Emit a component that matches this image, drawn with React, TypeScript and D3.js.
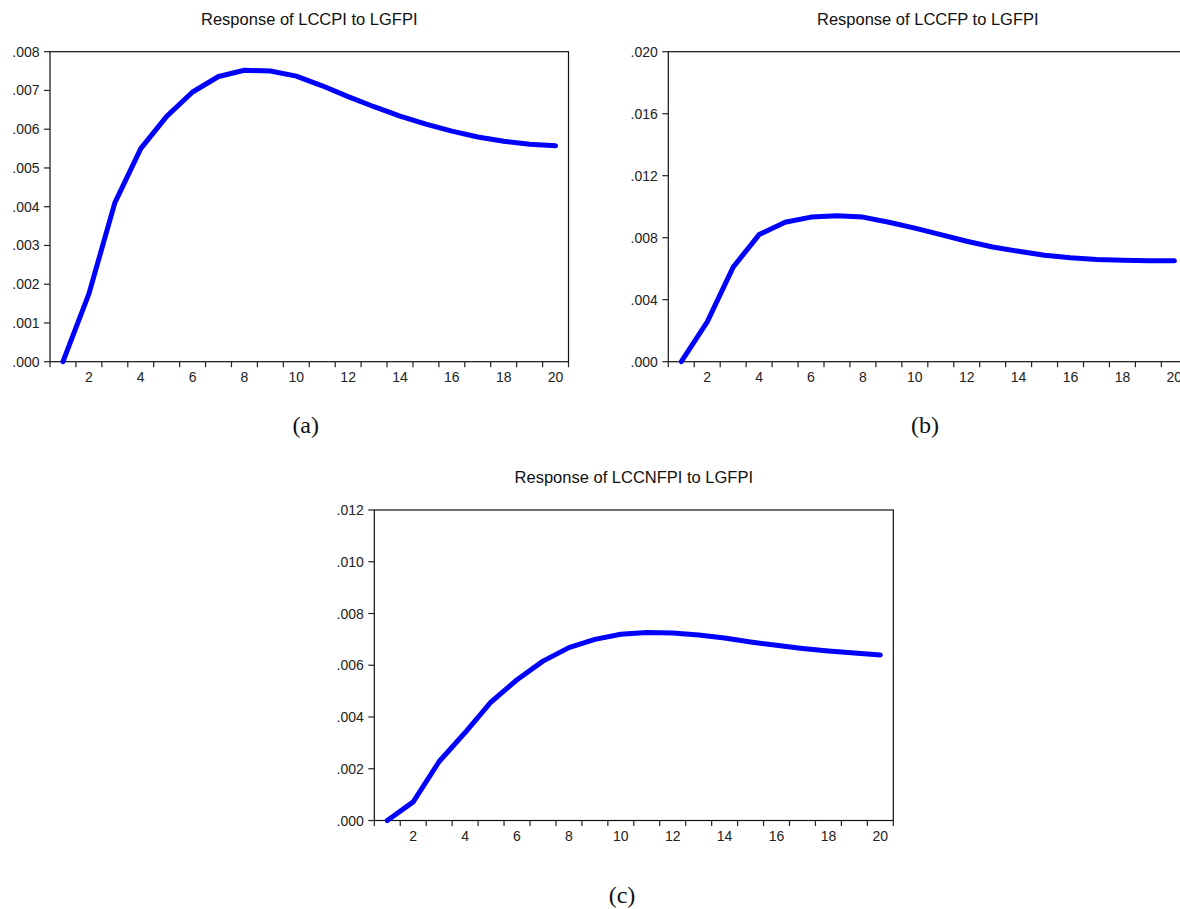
import React, { useEffect, useRef } from 'react'
import * as d3 from 'd3'

// impulse responses, periods 1..20
const periods = d3.range(1, 21)

const lccpiValues = [0.0, 0.00175, 0.0041, 0.0055, 0.00633, 0.00696, 0.00736, 0.00752, 0.0075, 0.00737,
  0.00712, 0.00684, 0.00658, 0.00634, 0.00613, 0.00595, 0.0058, 0.00569, 0.00561, 0.00557]

const lccfpValues = [0.0, 0.00257, 0.0061, 0.0082, 0.009, 0.00933, 0.00942, 0.00933, 0.009, 0.00862,
  0.0082, 0.00777, 0.0074, 0.00712, 0.00687, 0.0067, 0.0066, 0.00655, 0.00652, 0.00652]

const lccnfpiValues = [0.0, 0.00072, 0.00228, 0.0034, 0.00458, 0.00544, 0.00616, 0.00668, 0.007, 0.0072,
  0.00727, 0.00725, 0.00717, 0.00705, 0.0069, 0.00677, 0.00665, 0.00655, 0.00647, 0.0064]

const xTickLabels = [2, 4, 6, 8, 10, 12, 14, 16, 18, 20]

const panels = [
  { id: "a", title: "Response of LCCPI to LGFPI", values: lccpiValues, yMax: 0.008, yTicks: [0, 0.001, 0.002, 0.003, 0.004, 0.005, 0.006, 0.007, 0.008],
    left: 50, top: 51.7, width: 518.5, height: 310, caption: "(a)", capX: 305.7, capY: 433 },
  { id: "b", title: "Response of LCCFP to LGFPI", values: lccfpValues, yMax: 0.02, yTicks: [0, 0.004, 0.008, 0.012, 0.016, 0.02],
    left: 668.3, top: 51.7, width: 519, height: 310, caption: "(b)", capX: 925, capY: 433 },
  { id: "c", title: "Response of LCCNFPI to LGFPI", values: lccnfpiValues, yMax: 0.012, yTicks: [0, 0.002, 0.004, 0.006, 0.008, 0.01, 0.012],
    left: 374.3, top: 510, width: 519, height: 310.5, caption: "(c)", capX: 622, capY: 903 },
]

const fmt = (v) => d3.format(".3f")(v).replace(/^0\./, ".")

const App = () => {
  const svgRef = useRef(null)

  useEffect(() => {
    const svg = d3.select(svgRef.current)
    svg.selectAll("*").remove()

    panels.forEach(p => {
      const xScale = d3.scaleLinear().domain([0.5, 20.5]).range([0, p.width])
      const yScale = d3.scaleLinear().domain([0, p.yMax]).range([p.height, 0])

      const g = svg.append("g")
                   .attr("transform", "translate(" + p.left + "," + p.top + ")")

      // frame
      g.append("rect")
       .attr("x", 0).attr("y", 0)
       .attr("width", p.width).attr("height", p.height)
       .attr("fill", "none")
       .attr("stroke", "#111")
       .attr("stroke-width", 1.2)

      // x axis ticks at period boundaries, labels every 2
      g.selectAll(".xtick")
       .data(d3.range(0, 21))
       .join("line")
       .attr("x1", d => xScale(d + 0.5)).attr("x2", d => xScale(d + 0.5))
       .attr("y1", p.height).attr("y2", p.height + 5.5)
       .attr("stroke", "#222")
       .attr("stroke-width", 1.2)

      g.selectAll(".xlab")
       .data(xTickLabels)
       .join("text")
       .attr("x", d => xScale(d))
       .attr("y", p.height + 20.6)
       .attr("text-anchor", "middle")
       .attr("font-family", "'Liberation Sans', Arial, sans-serif")
       .attr("font-size", 14)
       .attr("fill", "#222")
       .text(d => d)

      // y axis
      g.selectAll(".ytick")
       .data(p.yTicks)
       .join("line")
       .attr("x1", -6).attr("x2", 0)
       .attr("y1", d => yScale(d)).attr("y2", d => yScale(d))
       .attr("stroke", "#222")
       .attr("stroke-width", 1.2)

      g.selectAll(".ylab")
       .data(p.yTicks)
       .join("text")
       .attr("x", -10.5)
       .attr("y", d => yScale(d))
       .attr("dy", "0.36em")
       .attr("text-anchor", "end")
       .attr("font-family", "'Liberation Sans', Arial, sans-serif")
       .attr("font-size", 14)
       .attr("fill", "#222")
       .text(d => fmt(d))

      // title
      g.append("text")
       .attr("x", p.width / 2)
       .attr("y", -26.7)
       .attr("text-anchor", "middle")
       .attr("font-family", "'Liberation Sans', Arial, sans-serif")
       .attr("font-size", 16.5)
       .attr("fill", "#111")
       .text(p.title)

      // response line
      const line = d3.line()
                     .x((d, i) => xScale(periods[i]))
                     .y(d => yScale(d))
      g.append("path")
       .datum(p.values)
       .attr("d", line)
       .attr("fill", "none")
       .attr("stroke", "#0000ff")
       .attr("stroke-width", 5)
       .attr("stroke-linecap", "round")
       .attr("stroke-linejoin", "round")

      // caption under panel
      svg.append("text")
         .attr("x", p.capX)
         .attr("y", p.capY)
         .attr("text-anchor", "middle")
         .attr("font-family", "'Liberation Serif', 'Times New Roman', serif")
         .attr("font-size", 24)
         .attr("fill", "#111")
         .text(p.caption)
    })
  }, [])

  return (
    <div style={{ position: "absolute", left: 0, top: 0, background: "#fff" }}>
      <svg ref={svgRef} width={1180} height={909} style={{ display: "block" }}></svg>
    </div>
  )
}

export default App
